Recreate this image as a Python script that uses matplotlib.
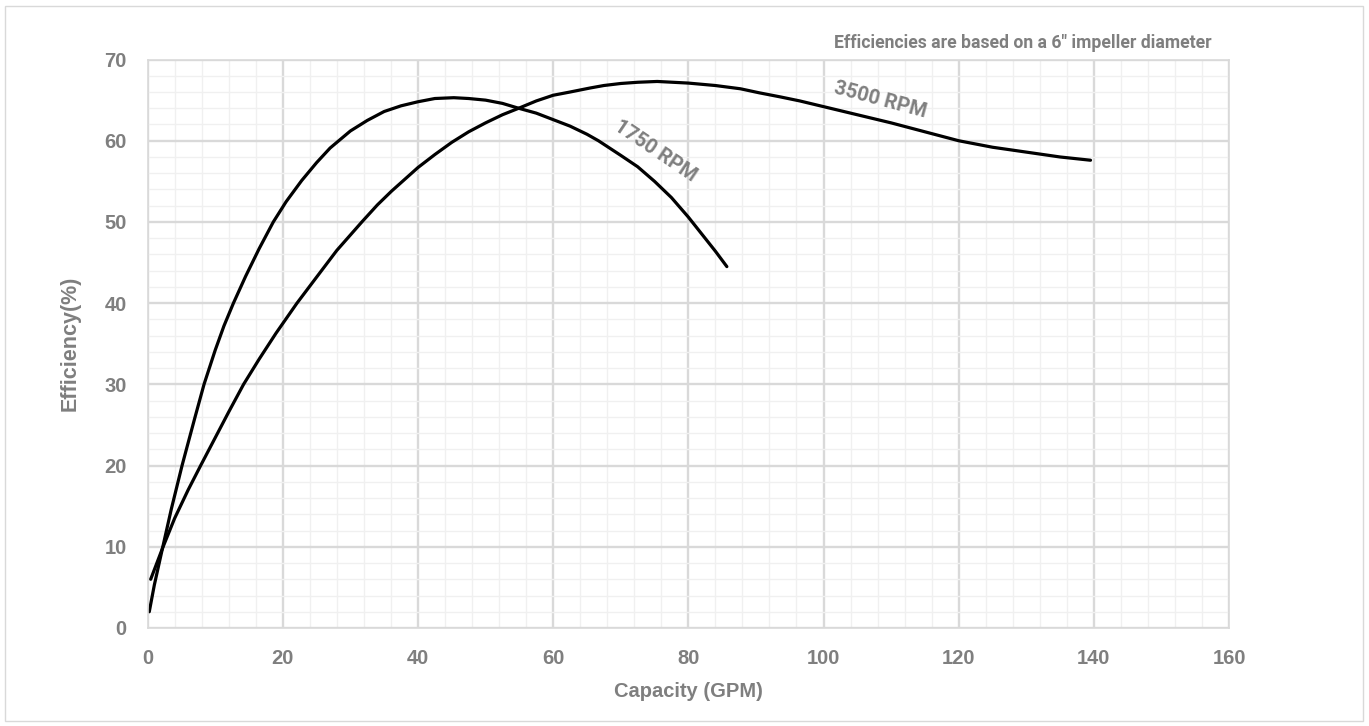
#! usr/bin/env python3
import numpy as np
import matplotlib.pyplot as plt
from matplotlib.patches import Rectangle
from matplotlib.ticker import MultipleLocator

# efficiency curves (capacity GPM, efficiency %)
gpm_1750 = [0.25, 1.0, 2.2, 3.5, 5.1, 6.0, 7.0, 8.35, 10.0, 11.3, 12.7,
            14.5, 16.5, 18.6, 20.5, 22.8, 25.0, 27.0, 30.0, 32.5, 35.0,
            37.5, 40.0, 42.5, 45.3, 47.5, 50.0, 52.5, 54.9, 57.5, 60.0,
            62.5, 65.0, 66.7, 70.0, 72.5, 75.0, 77.5, 80.0, 82.0, 84.0, 85.7]
eff_1750 = [2.0, 5.3, 9.8, 14.6, 20.0, 22.8, 25.9, 30.0, 34.2, 37.2, 40.0,
            43.3, 46.7, 50.0, 52.5, 55.1, 57.3, 59.1, 61.2, 62.5, 63.6,
            64.3, 64.8, 65.2, 65.3, 65.2, 65.0, 64.6, 64.0, 63.4, 62.6,
            61.8, 60.8, 60.0, 58.2, 56.8, 55.0, 53.0, 50.6, 48.5, 46.4, 44.5]

gpm_3500 = [0.46, 2.2, 4.0, 6.0, 7.85, 9.8, 12.0, 14.2, 16.5, 19.0, 22.1,
            25.0, 28.0, 31.7, 34.0, 36.1, 40.0, 42.5, 45.0, 47.5, 50.0,
            52.5, 54.9, 57.5, 60.0, 62.5, 65.5, 67.5, 70.0, 72.5, 75.4,
            80.0, 84.0, 87.7, 90.5, 93.6, 96.5, 100.0, 105.0, 110.0, 115.0,
            120.0, 125.0, 130.0, 135.0, 139.5]
eff_3500 = [6.0, 9.8, 13.5, 17.0, 20.0, 23.1, 26.6, 30.0, 33.1, 36.3, 40.0,
            43.2, 46.5, 50.0, 52.1, 53.8, 56.7, 58.3, 59.8, 61.1, 62.2,
            63.2, 64.0, 64.9, 65.6, 66.0, 66.5, 66.8, 67.05, 67.2, 67.3,
            67.1, 66.8, 66.4, 65.9, 65.4, 64.9, 64.2, 63.2, 62.2, 61.1,
            60.0, 59.2, 58.6, 58.0, 57.6]

x_ticks = [0, 20, 40, 60, 80, 100, 120, 140, 160]
y_ticks = [0, 10, 20, 30, 40, 50, 60, 70]

grey = "#7f7f7f"

fig = plt.figure(figsize=(13.69, 7.26), dpi=100)
ax = fig.add_axes([0.1078, 0.135, 0.79, 0.783])

ax.plot(gpm_1750, eff_1750, color="black", lw=2.3, solid_capstyle="round")
ax.plot(gpm_3500, eff_3500, color="black", lw=2.3, solid_capstyle="round")

ax.set_xlim(0, 160)
ax.set_ylim(0, 70)
ax.set_xticks(x_ticks)
ax.set_yticks(y_ticks)
ax.xaxis.set_minor_locator(MultipleLocator(4))
ax.yaxis.set_minor_locator(MultipleLocator(2))
ax.grid(which="major", color="#d9d9d9", lw=1.7)
ax.grid(which="minor", color="#f0f0f0", lw=1.0)
ax.set_axisbelow(True)
ax.tick_params(which="both", length=0, pad=15)
for lab in ax.get_xticklabels() + ax.get_yticklabels():
    lab.set_fontfamily("Liberation Sans")
    lab.set_fontweight("bold")
    lab.set_fontsize(14.5)
    lab.set_color(grey)
for s in ax.spines.values():
    s.set_color("#d9d9d9")
    s.set_linewidth(1.2)

ax.set_xlabel("Capacity (GPM)", fontfamily="Liberation Sans", fontweight="bold",
              fontsize=14.5, color=grey, labelpad=10)
ax.set_ylabel("Efficiency(%)", fontfamily="Liberation Sans", fontweight="bold",
              fontsize=15.5, color=grey, labelpad=17)

# curve labels
ax.text(75.1, 58.8, "1750 RPM", rotation=-34, ha="center", va="center",
        fontfamily="Roboto", fontweight="bold", fontsize=14.5, color=grey)
ax.text(108.4, 65.0, "3500 RPM", rotation=-15, ha="center", va="center",
        fontfamily="Roboto", fontweight="bold", fontsize=14.5, color=grey)

fig.text(1212 / 1369, 1 - 43 / 726, 'Efficiencies are based on a 6" impeller diameter',
         ha="right", va="center", fontfamily="Roboto", fontweight="bold",
         fontsize=12.7, color=grey)

# light frame round the whole chart
fig.patches.append(Rectangle((5 / 1369, 5 / 726), 1358 / 1369, 715 / 726,
                             transform=fig.transFigure, fill=False,
                             edgecolor="#d9d9d9", lw=1.0))

fig.savefig("out.png", dpi=100)
